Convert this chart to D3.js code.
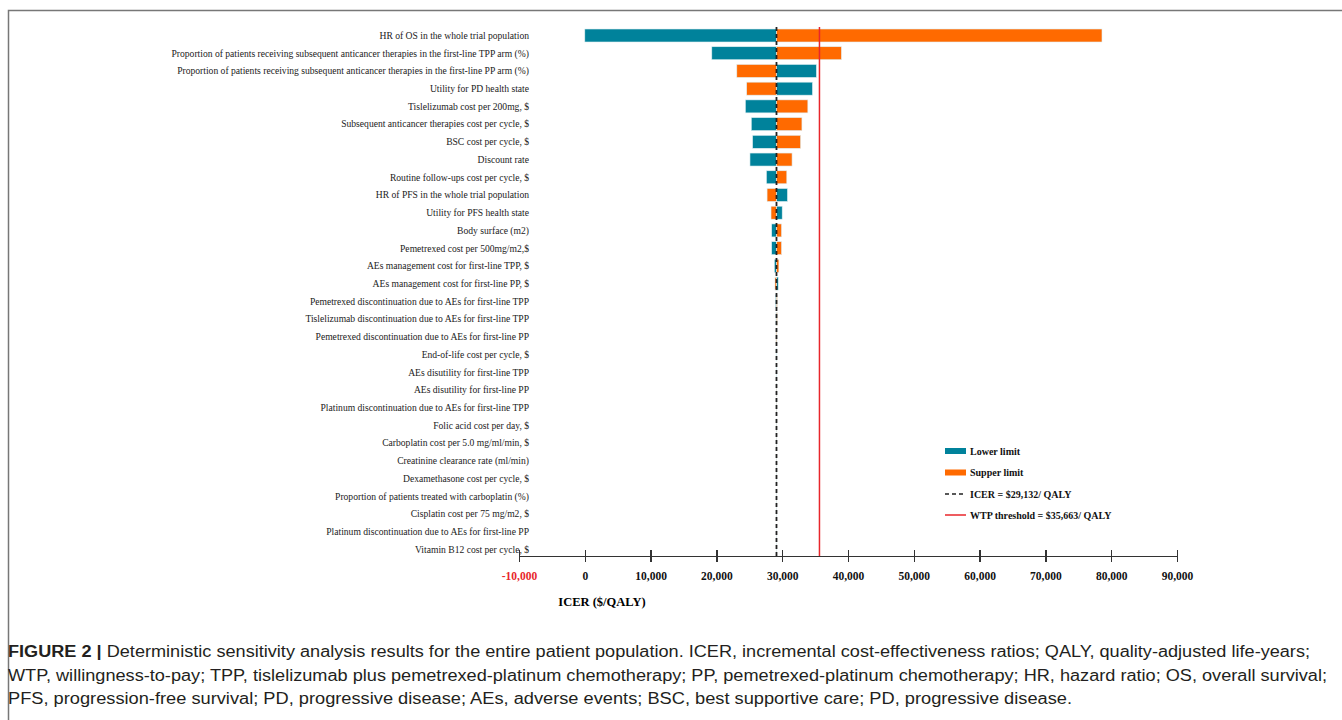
<!DOCTYPE html>
<html lang="en">
<head>
<meta charset="utf-8">
<title>Tornado diagram: deterministic sensitivity analysis</title>
<script src="https://cdn.jsdelivr.net/npm/d3@7"></script>
<style>
  body { margin: 0; background: #fff; }
  .ylab { font-family: "Liberation Serif", "Times New Roman", serif; font-size: 9.6px; fill: #222; }
  .x_axis path, .x_axis line { stroke: #333; stroke-width: 1.2; shape-rendering: crispEdges; }
  .x_axis text { font-family: "Liberation Serif", serif; font-weight: bold; font-size: 11.5px; fill: #111; }
  .leg { font-family: "Liberation Serif", serif; font-weight: bold; font-size: 10px; fill: #111; }
  .cap { font-family: "Liberation Sans", Arial, sans-serif; font-size: 16px; fill: #231f20; }
</style>
</head>
<body>
<script>
// parameters, top to bottom
var params = [
  "HR of OS in the whole trial population",
  "Proportion of patients receiving subsequent anticancer therapies in the first-line TPP arm (%)",
  "Proportion of patients receiving subsequent anticancer therapies in the first-line PP arm (%)",
  "Utility for PD health state",
  "Tislelizumab cost per 200mg, $",
  "Subsequent anticancer therapies cost per cycle, $",
  "BSC cost per cycle, $",
  "Discount rate",
  "Routine follow-ups cost per cycle, $",
  "HR of PFS in the whole trial population",
  "Utility for PFS health state",
  "Body surface (m2)",
  "Pemetrexed cost per 500mg/m2,$",
  "AEs management cost for first-line TPP, $",
  "AEs management cost for first-line PP, $",
  "Pemetrexed discontinuation due to AEs for first-line TPP",
  "Tislelizumab discontinuation due to AEs for first-line TPP",
  "Pemetrexed discontinuation due to AEs for first-line PP",
  "End-of-life cost per cycle, $",
  "AEs disutility for first-line TPP",
  "AEs disutility for first-line PP",
  "Platinum discontinuation due to AEs for first-line TPP",
  "Folic acid cost per day, $",
  "Carboplatin cost per 5.0 mg/ml/min, $",
  "Creatinine clearance rate (ml/min)",
  "Dexamethasone cost per cycle, $",
  "Proportion of patients treated with carboplatin (%)",
  "Cisplatin cost per 75 mg/m2, $",
  "Platinum discontinuation due to AEs for first-line PP",
  "Vitamin B12 cost per cycle, $"
];

// ICER at the lower limit of each parameter (teal)
var lowerICER = [0, 19300, 35200, 34600, 24400, 25300, 25500, 25100, 27600, 30800,
  30000, 28400, 28400, 28800, 29400, 29000, 29050, 29200, 29080, 29090,
  29170, 29100, 29110, 29115, 29150, 29120, 29145, 29122, 29125, 29127];
// ICER at the upper limit of each parameter (orange)
var upperICER = [78600, 39000, 23100, 24600, 33900, 33000, 32800, 31500, 30700, 27700,
  28300, 29900, 29900, 29500, 28900, 29250, 29250, 29050, 29180, 29170,
  29100, 29160, 29150, 29150, 29115, 29145, 29120, 29142, 29140, 29137];

var baseICER = 29132;
var wtp = 35663;
var xTicks = [-10000, 0, 10000, 20000, 30000, 40000, 50000, 60000, 70000, 80000, 90000];

var legendItems = ["Lower limit", "Supper limit", "ICER = $29,132/ QALY", "WTP threshold = $35,663/ QALY"];

var captionLines = [
  "Deterministic sensitivity analysis results for the entire patient population. ICER, incremental cost-effectiveness ratios; QALY, quality-adjusted life-years;",
  "WTP, willingness-to-pay; TPP, tislelizumab plus pemetrexed-platinum chemotherapy; PP, pemetrexed-platinum chemotherapy; HR, hazard ratio; OS, overall survival;",
  "PFS, progression-free survival; PD, progressive disease; AEs, adverse events; BSC, best supportive care; PD, progressive disease."
];

var w = 1342, h = 720;
var teal = "#00829b", orange = "#ff6a00";

var svg = d3.select("body").append("svg")
  .attr("width", w).attr("height", h);

// figure frame
svg.append("rect")
  .attr("x", 8.5).attr("y", 10.5)
  .attr("width", 1340).attr("height", 740)
  .attr("fill", "none").attr("stroke", "#777").attr("stroke-width", 1.5);

var x = d3.scaleLinear().domain([-10000, 90000]).range([519, 1177]);
var y = d3.scalePoint().domain(params).range([35.5, 549.4]);
var barH = 13;

// labels
svg.selectAll("text.ylab")
  .data(params)
  .enter().append("text")
  .attr("class", "ylab")
  .attr("x", 529)
  .attr("y", function(d){ return y(d); })
  .attr("dy", "0.35em")
  .attr("text-anchor", "end")
  .text(function(d){ return d; });

// bars
var rows = params.map(function(p, i){ return {p: p, lo: lowerICER[i], hi: upperICER[i]}; });

function addBars(key, col){
  svg.append("g").selectAll("rect")
    .data(rows)
    .enter().append("rect")
    .attr("x", function(d){ return x(Math.min(d[key], baseICER)); })
    .attr("y", function(d){ return y(d.p) - barH/2; })
    .attr("width", function(d){ return Math.abs(x(d[key]) - x(baseICER)); })
    .attr("height", barH)
    .attr("fill", col)
    .attr("stroke", "#dfeff2")
    .attr("stroke-width", 0.6);
}
addBars("lo", teal);
addBars("hi", orange);

// reference lines
var lineTop = 27, lineBot = 556;
svg.append("line")
  .attr("x1", x(baseICER)).attr("x2", x(baseICER))
  .attr("y1", lineTop).attr("y2", lineBot)
  .attr("stroke", "#222").attr("stroke-width", 1.8)
  .attr("stroke-dasharray", "4,3");
svg.append("line")
  .attr("x1", x(wtp)).attr("x2", x(wtp))
  .attr("y1", lineTop).attr("y2", lineBot)
  .attr("stroke", "#e8262b").attr("stroke-width", 1.5);

// axis
var fmt = d3.format(",d");
var xAxis = d3.axisBottom(x)
  .tickValues(xTicks)
  .tickSizeInner(6)
  .tickSizeOuter(0)
  .tickPadding(10)
  .tickFormat(function(d){ return fmt(d).replace("\u2212", "-"); });

var gx = svg.append("g")
  .attr("class", "x_axis")
  .attr("transform", "translate(0," + lineBot + ")")
  .call(xAxis);
gx.selectAll(".tick line").attr("y1", -6);
gx.selectAll(".tick text")
  .style("fill", function(d){ return d < 0 ? "#e8262b" : "#111"; });

svg.append("text")
  .attr("x", 602).attr("y", 606)
  .attr("text-anchor", "middle")
  .style("font-family", "Liberation Serif, serif")
  .style("font-weight", "bold")
  .style("font-size", "12.5px")
  .text("ICER ($/QALY)");

// legend
var legY = [451, 472.5, 494, 515];
var leg = svg.append("g");
leg.append("rect").attr("x", 945).attr("y", legY[0] - 3).attr("width", 21).attr("height", 6).attr("fill", teal);
leg.append("rect").attr("x", 945).attr("y", legY[1] - 3).attr("width", 21).attr("height", 6).attr("fill", orange);
leg.append("line").attr("x1", 945).attr("x2", 966).attr("y1", legY[2]).attr("y2", legY[2])
  .attr("stroke", "#222").attr("stroke-width", 1.6).attr("stroke-dasharray", "4,3");
leg.append("line").attr("x1", 945).attr("x2", 966).attr("y1", legY[3]).attr("y2", legY[3])
  .attr("stroke", "#e8262b").attr("stroke-width", 1.5);
leg.selectAll("text")
  .data(legendItems)
  .enter().append("text")
  .attr("class", "leg")
  .attr("x", 970)
  .attr("y", function(d, i){ return legY[i]; })
  .attr("dy", "0.35em")
  .text(function(d){ return d; });

// caption
var capY = [657, 681, 704];
var capW = [1302, 1319, 1064];
captionLines.forEach(function(line, i){
  var t = svg.append("text")
    .attr("class", "cap")
    .attr("x", 8).attr("y", capY[i])
    .attr("textLength", capW[i])
    .attr("lengthAdjust", "spacingAndGlyphs");
  if (i === 0) {
    t.append("tspan").style("font-weight", "bold").text("FIGURE 2 | ");
  }
  t.append("tspan").text(line);
});
</script>
</body>
</html>
